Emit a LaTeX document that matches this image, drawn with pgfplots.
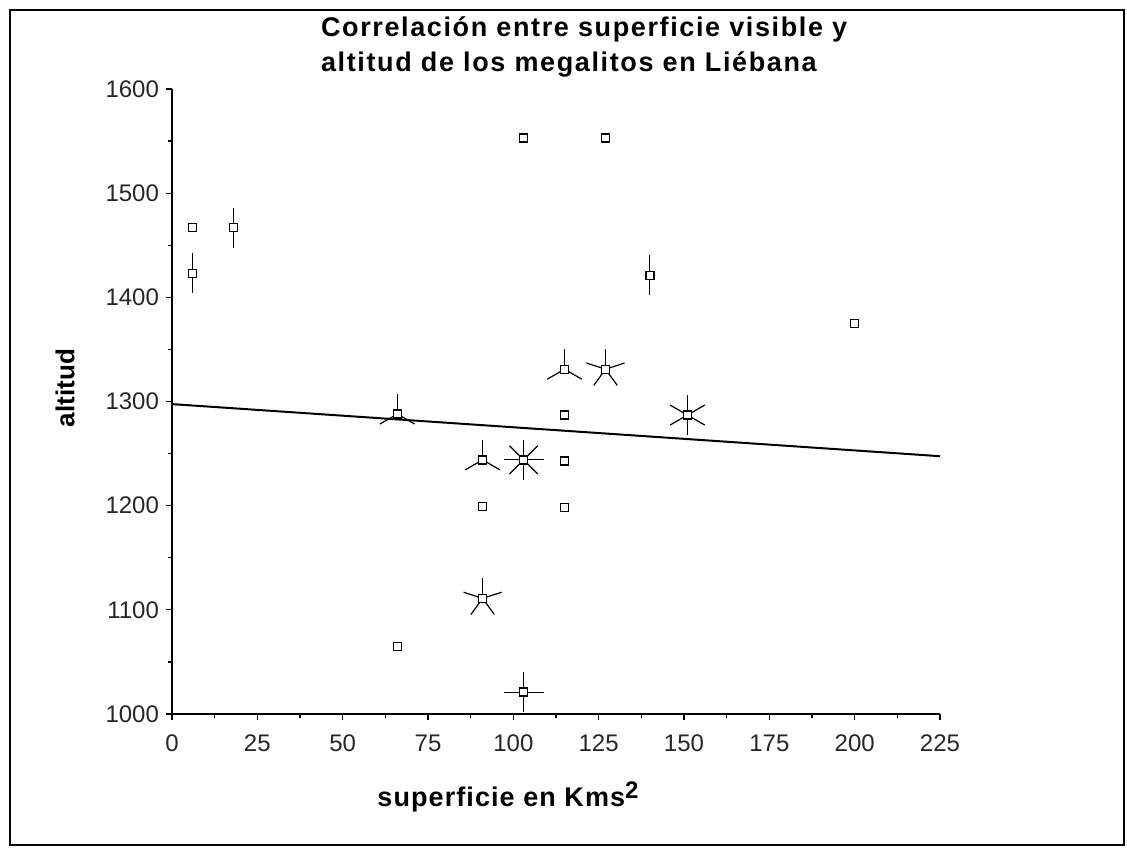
\documentclass[border=0pt]{standalone}
\usepackage{fontspec}
\setmainfont{Liberation Sans}
\usepackage{pgfplots}
\pgfplotsset{compat=1.18}

% sunflower petals: one ray per observation
\newcommand\petal[1]{\pgfpathmoveto{\pgfpointorigin}\pgfpathlineto{\pgfpointpolar{#1}{10pt}}\pgfusepathqstroke}
\pgfdeclareplotmark{sun2}{\petal{90}\petal{270}}
\pgfdeclareplotmark{sun3}{\petal{90}\petal{210}\petal{330}}
\pgfdeclareplotmark{sun4}{\petal{0}\petal{90}\petal{180}\petal{270}}
\pgfdeclareplotmark{sun5}{\petal{90}\petal{162}\petal{234}\petal{306}\petal{18}}
\pgfdeclareplotmark{sun6}{\petal{90}\petal{150}\petal{210}\petal{270}\petal{330}\petal{30}}
\pgfdeclareplotmark{sun8}{\petal{0}\petal{45}\petal{90}\petal{135}\petal{180}\petal{225}\petal{270}\petal{315}}

\begin{document}
\begin{tikzpicture}
\begin{axis}[
  scale only axis,
  width=384pt, height=312.5pt,
  xmin=0, xmax=225, ymin=1000, ymax=1600,
  axis x line=bottom, axis y line=left,
  axis line style={-, line width=0.8pt},
  xtick={0,25,...,225}, ytick={1000,1100,...,1600},
  minor tick num=1,
  tick align=outside,
  major tick length=3pt, minor tick length=1.8pt,
  tick style={black, line width=0.6pt},
  ticklabel style={font=\fontsize{12}{12}\selectfont, text=black!85},
  xticklabel style={yshift=-4pt},
  /pgf/number format/1000 sep={},
  /pgf/number format/assume math mode=true,
  clip=false,
]
% regression line
\addplot[black, line width=1pt] coordinates {(0,1297.5) (225,1247.5)};

% petals
\addplot[only marks, mark=sun2, line width=0.6pt] coordinates {(18,1467) (6,1423) (140,1421)};
\addplot[only marks, mark=sun3, line width=0.6pt] coordinates {(66,1288) (91,1244) (115,1331)};
\addplot[only marks, mark=sun4, line width=0.6pt] coordinates {(103,1021)};
\addplot[only marks, mark=sun5, line width=0.6pt] coordinates {(127,1331) (91,1111)};
\addplot[only marks, mark=sun6, line width=0.6pt] coordinates {(151,1287)};
\addplot[only marks, mark=sun8, line width=0.6pt] coordinates {(103,1244)};

% all points
\addplot[only marks, mark=square*, mark size=2pt,
  mark options={draw=black, fill=white, line width=0.7pt}] coordinates {
  (6,1467) (66,1065) (91,1199) (103,1553) (115,1287) (115,1243) (115,1198)
  (127,1553) (200,1375)
  (18,1467) (6,1423) (140,1421)
  (66,1288) (91,1244) (115,1331)
  (103,1021) (127,1331) (91,1111) (151,1287) (103,1244)
};
\end{axis}

\node[anchor=west, align=left, font=\bfseries\fontsize{13.5}{17.5}\selectfont\addfontfeatures{LetterSpace=6}]
  at (71pt,333.5pt) {Correlación entre superficie visible y\\altitud de los megalitos en Liébana};
\node[rotate=90, font=\bfseries\fontsize{13}{13}\selectfont] at (-53.5pt,163pt) {altitud};
\node[font=\bfseries\fontsize{13.5}{13.5}\selectfont\addfontfeatures{LetterSpace=4}] at (168pt,-41.5pt)
  {superficie en Kms\raisebox{0.55ex}{\fontsize{12}{12}\selectfont 2}};

\draw[line width=1pt] (-81pt,-65.5pt) rectangle (476pt,352pt);
\pgfresetboundingbox
\useasboundingbox (-86pt,-67pt) rectangle (477.5pt,357pt);
\end{tikzpicture}
\end{document}
